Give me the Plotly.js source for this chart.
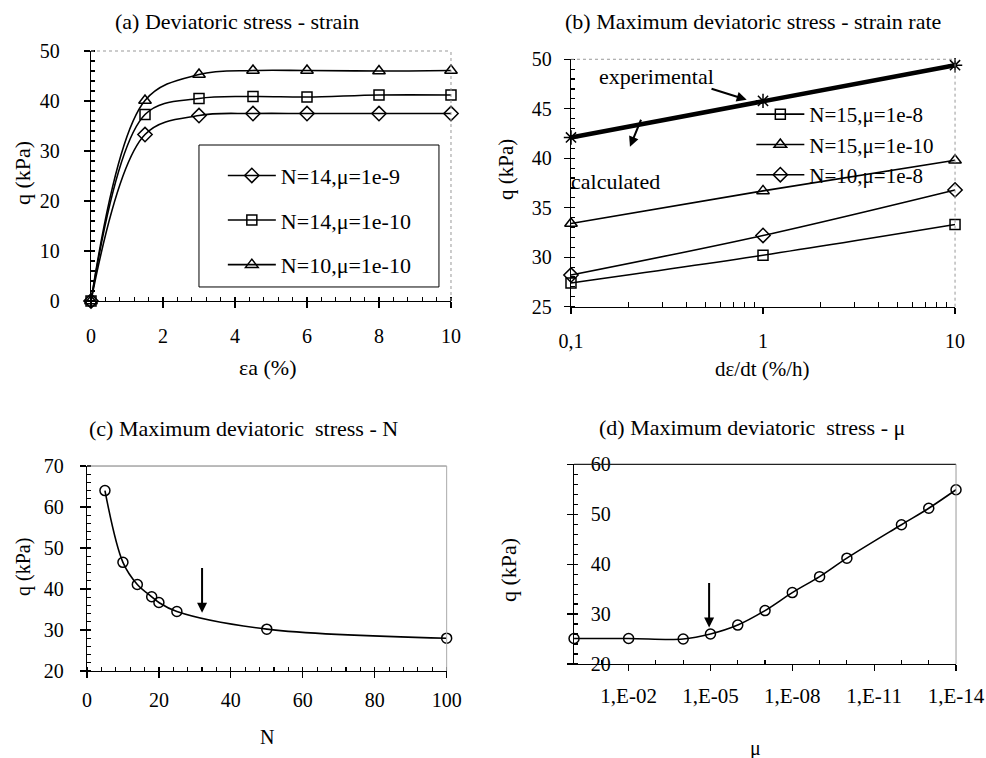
<!DOCTYPE html>
<html>
<head>
<meta charset="utf-8">
<script src="https://cdn.plot.ly/plotly-3.0.1.min.js"></script>
<style>html,body{margin:0;padding:0;background:#fff;}#chart{width:986px;height:758px;}</style>
</head>
<body>
<div id="chart"></div>
<script>
// (a) Deviatoric stress - strain
const strainX = [0, 1.5, 3, 4.5, 6, 8, 10];
const qN14mu9 = [0, 33.3, 37.1, 37.5, 37.5, 37.5, 37.5];
const qN14mu10 = [0, 37.3, 40.5, 40.9, 40.8, 41.2, 41.2];
const qN10mu10 = [0, 40.1, 45.3, 46.1, 46.1, 46.0, 46.1];
const namesA = ['N=14,\u03bc=1e-9', 'N=14,\u03bc=1e-10', 'N=10,\u03bc=1e-10'];

// (b) Maximum deviatoric stress - strain rate
const rateX = [0.1, 1, 10];
const rateTickText = ['0,1', '1', '10'];
const qExp = [42.1, 45.8, 49.4];
const qN15mu8 = [27.4, 30.2, 33.3];
const qN15mu10 = [33.4, 36.7, 39.8];
const qN10mu8 = [28.2, 32.2, 36.8];
const namesB = ['N=15,\u03bc=1e-8', 'N=15,\u03bc=1e-10', 'N=10,\u03bc=1e-8'];

// (c) Maximum deviatoric stress - N
const nVals = [5, 10, 14, 18, 20, 25, 50, 100];
const qByN = [64.0, 46.5, 41.1, 38.1, 36.7, 34.5, 30.2, 28.0];

// (d) Maximum deviatoric stress - mu
const muVals = [1, 1e-2, 1e-4, 1e-5, 1e-6, 1e-7, 1e-8, 1e-9, 1e-10, 1e-12, 1e-13, 1e-14];
const qByMu = [25.1, 25.1, 25.0, 26.0, 27.8, 30.7, 34.3, 37.5, 41.2, 47.9, 51.2, 54.9];
const muTickVals = [1e-2, 1e-5, 1e-8, 1e-11, 1e-14];
const muTickText = ['1,E-02', '1,E-05', '1,E-08', '1,E-11', '1,E-14'];

// minor tick positions for the log axes
const rateMinor = [];
[0.1, 1].forEach(d => { for (let k = 2; k <= 9; k++) rateMinor.push(k * d); });
const muMinor = [];
for (let e = 1; e <= 13; e++) { if (e % 3 !== 2) muMinor.push(Math.pow(10, -e)); }

const FONT = 'Liberation Serif';
const lineStyle = {color: '#000', width: 1.6, shape: 'spline', smoothing: 1};
const mk = (sym, size) => ({symbol: sym, size: size || 10, color: '#000', line: {color: '#000', width: 1.5}});

const traces = [
  {x: strainX, y: qN14mu9, name: namesA[0], mode: 'lines+markers', line: lineStyle, marker: mk('diamond-open', 11), xaxis: 'x', yaxis: 'y', legend: 'legend', legendgroup: 'a1', cliponaxis: false},
  {x: strainX, y: qN14mu10, name: namesA[1], mode: 'lines+markers', line: lineStyle, marker: mk('square-open', 10), xaxis: 'x', yaxis: 'y', legend: 'legend', legendgroup: 'a2', cliponaxis: false},
  {x: strainX, y: qN10mu10, name: namesA[2], mode: 'lines+markers', line: lineStyle, marker: mk('triangle-up-open', 11), xaxis: 'x', yaxis: 'y', legend: 'legend', legendgroup: 'a3', cliponaxis: false},

  {x: rateX, y: qExp, name: 'experimental', mode: 'lines+markers', line: {color: '#000', width: 4.5}, marker: mk('asterisk-open', 12), xaxis: 'x2', yaxis: 'y2', showlegend: false, cliponaxis: false},
  {x: rateX, y: qN15mu8, name: namesB[0], mode: 'lines+markers', line: lineStyle, marker: mk('square-open', 10), xaxis: 'x2', yaxis: 'y2', legend: 'legend2', cliponaxis: false},
  {x: rateX, y: qN15mu10, name: namesB[1], mode: 'lines+markers', line: lineStyle, marker: mk('triangle-up-open', 11), xaxis: 'x2', yaxis: 'y2', legend: 'legend2', cliponaxis: false},
  {x: rateX, y: qN10mu8, name: namesB[2], mode: 'lines+markers', line: lineStyle, marker: mk('diamond-open', 11), xaxis: 'x2', yaxis: 'y2', legend: 'legend2', cliponaxis: false},

  {x: nVals, y: qByN, mode: 'lines+markers', line: lineStyle, marker: mk('circle-open', 10), xaxis: 'x3', yaxis: 'y3', showlegend: false, cliponaxis: false},
  {x: muVals, y: qByMu, mode: 'lines+markers', line: lineStyle, marker: mk('circle-open', 10), xaxis: 'x4', yaxis: 'y4', showlegend: false, cliponaxis: false}
];

const tickFont = {family: FONT, size: 20, color: '#000'};
function axisBase(extra) {
  return Object.assign({
    showline: true, linecolor: '#000', linewidth: 1.2, showgrid: false, zeroline: false,
    ticks: 'outside', ticklen: 6, tickwidth: 1.2, tickcolor: '#000', tickfont: tickFont,
    fixedrange: true
  }, extra);
}
function ann(text, px, py, size, extra) {
  return Object.assign({text: text, xref: 'paper', yref: 'paper', x: px / 986, y: 1 - py / 758,
    xanchor: 'center', yanchor: 'middle', showarrow: false, font: {family: FONT, size: size, color: '#000'}}, extra || {});
}
const arrowStyle = {text: '', showarrow: true, arrowhead: 2, arrowsize: 1, arrowwidth: 2, arrowcolor: '#000'};

const layout = {
  width: 986, height: 758,
  margin: {l: 0, r: 0, t: 0, b: 0},
  paper_bgcolor: '#fff', plot_bgcolor: '#fff',
  font: {family: FONT, color: '#000'},
  xaxis: axisBase({domain: [0.0923, 0.4574], anchor: 'y', range: [0, 10], dtick: 2, ticklabelstandoff: 11,
    minor: {dtick: 0.4, ticks: 'inside', ticklen: 4, tickcolor: '#000'}}),
  yaxis: axisBase({domain: [0.6029, 0.9327], anchor: 'x', range: [0, 50], dtick: 10, ticklabelstandoff: 20,
    minor: {dtick: 2, ticks: 'inside', ticklen: 4, tickcolor: '#000'}}),
  xaxis2: axisBase({domain: [0.5791, 0.9686], anchor: 'y2', type: 'log', range: [-1, 1], tickvals: rateX, ticktext: rateTickText, ticklabelstandoff: 10,
    minor: {tickvals: rateMinor, ticks: 'inside', ticklen: 5, tickcolor: '#000'}}),
  yaxis2: axisBase({domain: [0.5954, 0.9218], anchor: 'x2', range: [25, 50], dtick: 5, ticklabelstandoff: 8,
    minor: {dtick: 1, ticks: 'inside', ticklen: 4, tickcolor: '#000'}}),
  xaxis3: axisBase({domain: [0.0882, 0.4530], anchor: 'y3', range: [0, 100], dtick: 20, ticklabelstandoff: 5,
    minor: {dtick: 4, ticks: 'inside', ticklen: 4, tickcolor: '#000'}}),
  yaxis3: axisBase({domain: [0.1148, 0.3852], anchor: 'x3', range: [20, 70], dtick: 10, ticklabelstandoff: 12,
    minor: {dtick: 2, ticks: 'inside', ticklen: 4, tickcolor: '#000'}}),
  xaxis4: axisBase({domain: [0.5822, 0.9696], anchor: 'y4', type: 'log', range: [0, -14], tickvals: muTickVals, ticktext: muTickText, ticklabelstandoff: 7,
    tickfont: {family: FONT, size: 21, color: '#000'},
    minor: {tickvals: muMinor, ticks: 'inside', ticklen: 4, tickcolor: '#000'}}),
  yaxis4: axisBase({domain: [0.1240, 0.3875], anchor: 'x4', range: [20, 60], dtick: 10, ticklabelstandoff: -48,
    minor: {dtick: 2, ticks: 'inside', ticklen: 4, tickcolor: '#000'}}),
  legend: {x: 0.226, y: 0.796, xanchor: 'left', yanchor: 'top', bgcolor: 'rgba(0,0,0,0)', borderwidth: 0,
    font: {family: FONT, size: 22, color: '#000'}, tracegroupgap: 13, itemwidth: 48},
  legend2: {x: 0.762, y: 0.876, xanchor: 'left', yanchor: 'top', bgcolor: 'rgba(0,0,0,0)', borderwidth: 0,
    font: {family: FONT, size: 21, color: '#000'}, tracegroupgap: 0, itemwidth: 48},
  shapes: [
    // legend box in (a)
    {type: 'rect', xref: 'paper', yref: 'paper', x0: 0.2018, x1: 0.4452, y0: 0.6214, y1: 0.8087, line: {color: '#000', width: 1}},
    // top/right frames
    {type: 'line', xref: 'x domain', yref: 'y domain', x0: 0, x1: 1, y0: 1, y1: 1, line: {color: '#999', width: 1, dash: 'dot'}},
    {type: 'line', xref: 'x domain', yref: 'y domain', x0: 1, x1: 1, y0: 0, y1: 1, line: {color: '#999', width: 1, dash: 'dot'}},
    {type: 'line', xref: 'x2 domain', yref: 'y2 domain', x0: 0, x1: 1, y0: 1, y1: 1, line: {color: '#999', width: 1, dash: 'dot'}},
    {type: 'line', xref: 'x2 domain', yref: 'y2 domain', x0: 1, x1: 1, y0: 0, y1: 1, line: {color: '#999', width: 1, dash: 'dot'}},
    {type: 'line', xref: 'x3 domain', yref: 'y3 domain', x0: 0, x1: 1, y0: 1, y1: 1, line: {color: '#777', width: 1}},
    {type: 'line', xref: 'x3 domain', yref: 'y3 domain', x0: 1, x1: 1, y0: 0, y1: 1, line: {color: '#aaa', width: 1}},
    {type: 'line', xref: 'x4 domain', yref: 'y4 domain', x0: 0, x1: 1, y0: 1, y1: 1, line: {color: '#222', width: 1.2}},
    {type: 'line', xref: 'x4 domain', yref: 'y4 domain', x0: 1, x1: 1, y0: 0, y1: 1, line: {color: '#999', width: 1}}
  ],
  annotations: [
    // panel titles
    ann('(a) Deviatoric stress - strain', 237, 22, 22),
    ann('(b) Maximum deviatoric stress - strain rate', 753, 21, 22),
    ann('(c) Maximum deviatoric  stress - N', 243, 428, 22),
    ann('(d) Maximum deviatoric  stress - \u03bc', 752, 427, 22),
    // axis titles
    ann('\u03b5a (%)', 267, 368, 22),
    ann('q (kPa)', 22, 173, 22, {textangle: -90}),
    ann('d\u03b5/dt (%/h)', 762, 369, 21),
    ann('q (kPa)', 506, 170, 21, {textangle: -90}),
    ann('N', 267, 737, 20),
    ann('q (kPa)', 23, 567, 20, {textangle: -90}),
    ann('\u03bc', 755, 748, 20),
    ann('q (kPa)', 508, 570, 22, {textangle: -90}),
    // (b) text labels and arrows
    {text: 'experimental', xref: 'x2', yref: 'y2', x: -0.554, y: 48.24, xanchor: 'center', yanchor: 'middle', showarrow: false, font: {family: FONT, size: 22, color: '#000'}},
    {text: 'calculated', xref: 'x2', yref: 'y2', x: -0.767, y: 37.64, xanchor: 'center', yanchor: 'middle', showarrow: false, font: {family: FONT, size: 22, color: '#000'}},
    Object.assign({xref: 'x2', yref: 'y2', x: -0.085, y: 45.9, axref: 'x2', ayref: 'y2', ax: -0.276, ay: 47.07}, arrowStyle),
    Object.assign({xref: 'x2', yref: 'y2', x: -0.693, y: 41.17, axref: 'x2', ayref: 'y2', ax: -0.632, ay: 44.04}, arrowStyle),
    // (c) arrow
    Object.assign({xref: 'x3', yref: 'y3', x: 32, y: 34.2, axref: 'x3', ayref: 'y3', ax: 32, ay: 45.5}, arrowStyle),
    // (d) arrow
    Object.assign({xref: 'x4', yref: 'y4', x: -4.95, y: 27.3, axref: 'x4', ayref: 'y4', ax: -4.95, ay: 36.5}, arrowStyle)
  ]
};

Plotly.newPlot('chart', traces, layout, {staticPlot: true, displayModeBar: false});
</script>
</body>
</html>
